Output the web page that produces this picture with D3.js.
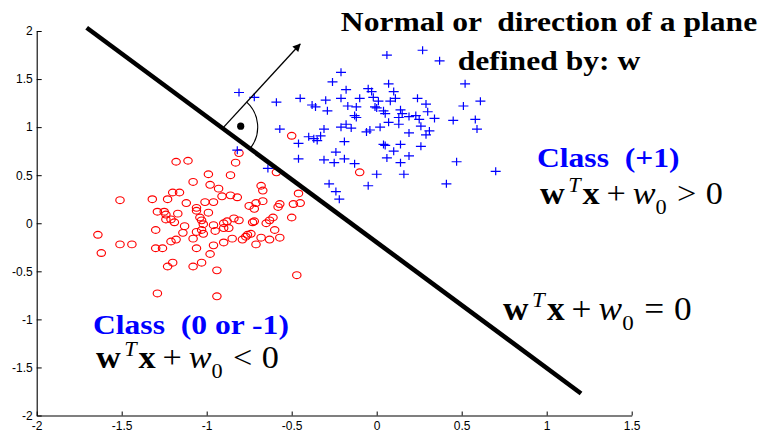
<!DOCTYPE html>
<html><head><meta charset="utf-8">
<script src="https://cdn.jsdelivr.net/npm/d3@7"></script>
<style>body{margin:0;background:#fff}svg{display:block}</style>
</head><body>
<svg id="chart" width="764" height="432"></svg>
<script>
// ---- data ----
const xTicks = [-2, -1.5, -1, -0.5, 0, 0.5, 1, 1.5];
const yTicks = [-2, -1.5, -1, -0.5, 0, 0.5, 1, 1.5, 2];

// Class (0 or -1): red circles  [x, y]
const classNeg = [
 [-1.18,0.64],[-1.11,0.65],[-1.08,0.43],[-1.51,0.24],[-1.32,0.25],[-1.23,0.25],[-1.20,0.32],[-1.16,0.32],[-1.12,0.21],[-1.29,0.12],
 [-1.25,0.12],[-1.24,0.09],[-1.17,0.10],[-1.24,0.04],[-1.21,0.04],[-1.19,0.01],[-1.06,0.16],[-1.06,0.13],[-1.30,-0.07],[-1.13,-0.03],
 [-1.14,-0.10],[-1.08,-0.16],[-1.64,-0.12],[-1.62,-0.31],[-1.51,-0.22],[-1.44,-0.22],[-1.30,-0.26],[-1.26,-0.26],[-1.21,-0.19],[-1.18,-0.17],
 [-1.06,-0.26],[-1.23,-0.45],[-1.20,-0.41],[-1.08,-0.45],[-1.29,-0.73],
 [-0.81,0.73],[-0.83,0.63],[-0.99,0.51],[-0.86,0.50],[-0.59,0.53],[-0.98,0.40],[-0.93,0.36],[-0.68,0.39],[-0.67,0.34],[-0.46,0.31],
 [-0.91,0.28],[-0.86,0.29],[-0.82,0.27],[-1.01,0.22],[-0.96,0.22],[-0.99,0.11],[-0.75,0.18],[-0.72,0.15],[-0.71,0.21],[-0.67,0.23],
 [-0.58,0.17],[-0.57,0.20],[-0.49,0.20],[-0.45,0.21],[-1.04,0.06],[-1.03,0.03],[-1.02,-0.01],[-0.96,-0.02],[-0.90,0.00],[-0.88,0.02],
 [-0.84,0.05],[-0.81,0.03],[-0.73,0.01],[-0.72,0.02],[-0.61,0.06],[-0.63,0.03],[-0.65,0.00],[-0.50,0.06],[-1.03,-0.07],[-1.02,-0.11],
 [-0.95,-0.08],[-0.90,-0.05],[-0.87,-0.05],[-0.77,-0.14],[-0.76,-0.12],[-0.74,-0.11],[-0.85,-0.16],[-0.79,-0.17],[-0.68,-0.15],[-0.60,-0.07],
 [-0.63,-0.17],[-0.57,-0.15],[-0.90,-0.20],[-0.96,-0.23],[-0.71,-0.22],[-0.98,-0.32],[-1.03,-0.41],[-0.94,-0.49],[-0.47,-0.54],[-0.94,-0.76],
 [-0.50,0.91],[-0.10,0.53],[-1.06,-0.09]
];

// Class (+1): blue pluses [x, y]
const classPos = [
 [-0.81,1.36],[-0.72,1.31],[-0.59,1.26],[-0.45,1.30],[-0.38,1.23],[-0.36,1.21],[-0.30,1.28],[-0.29,1.17],[-0.21,1.57],[-0.26,1.47],
 [-0.18,1.39],[-0.21,1.30],[-0.17,1.22],[-0.12,1.21],[-0.10,1.30],[-0.13,1.12],[-0.12,1.10],[-0.57,0.98],[-0.46,0.83],[-0.40,0.90],
 [-0.37,0.88],[-0.35,0.86],[-0.33,0.91],[-0.31,0.98],[-0.21,1.00],[-0.18,1.03],[-0.15,0.99],[-0.19,0.85],[-0.24,0.74],[-0.31,0.66],
 [-0.25,0.63],[-0.19,0.67],[-0.13,0.62],[-0.46,0.67],[-0.64,0.57],[-0.82,0.76],[-0.28,0.41],[-0.24,0.33],[-0.22,0.25],[-0.05,0.39],
 [0.00,0.51],[0.16,0.51],[0.41,0.41],[0.70,0.54],[0.47,0.64],
 [0.06,1.75],[0.27,1.80],[0.37,1.69],[0.07,1.45],[0.52,1.45],[-0.05,1.40],[-0.03,1.37],[0.10,1.37],[-0.02,1.31],[0.01,1.27],
 [0.08,1.27],[0.11,1.30],[0.24,1.30],[0.29,1.24],[-0.01,1.21],[0.00,1.20],[0.04,1.17],[0.14,1.18],[0.15,1.14],[0.05,1.14],
 [0.30,1.16],[0.51,1.22],[0.61,1.27],[0.13,1.10],[0.19,1.11],[0.23,1.12],[0.25,1.08],[0.34,1.09],[0.45,1.07],[0.58,1.08],
 [0.59,0.98],[0.07,1.05],[0.13,1.03],[0.02,1.00],[0.26,1.01],[0.31,0.96],[0.29,0.92],[0.19,0.94],[-0.06,0.95],[-0.04,0.97],
 [0.04,0.82],[0.05,0.81],[0.14,0.82],[0.26,0.80],[0.10,0.75],[0.19,0.70],[0.06,0.68],[0.14,0.63]
];

// decision boundary (end points) and normal vector
const boundary = [[-1.706, 2.034], [1.202, -1.771]];
const normalFoot = [-0.90, 1.00];
const normalTip = [-0.45, 1.865];
const angleDot = [-0.80, 1.01];

// annotation texts
const titleLines = ["Normal or  direction of a plane", "defined by: w"];
const classPosLabel = "Class  (+1)";
const classNegLabel = "Class  (0 or -1)";

// ---- layout ----
const svg = d3.select("#chart");
const x = d3.scaleLinear().domain([-2, 1.5]).range([36.7, 631.7]);
const y = d3.scaleLinear().domain([-2, 2]).range([415.5, 31]);
const SERIF = "'Liberation Serif','Times New Roman',Times,serif";
const SANS = "'Liberation Sans',Arial,Helvetica,sans-serif";
const SX = 1.17;   // horizontal stretch of the bold lettering
const SXEQ = 1.07; // horizontal stretch of the formulas

// axes
const fmt = d => String(d);
const gx = svg.append("g").attr("transform", `translate(0,${y(-2)})`)
  .call(d3.axisBottom(x).tickValues(xTicks).tickFormat(fmt).tickSizeInner(-4).tickSizeOuter(0).tickPadding(6));
const gy = svg.append("g").attr("transform", `translate(${x(-2)},0)`)
  .call(d3.axisLeft(y).tickValues(yTicks).tickFormat(fmt).tickSizeInner(-5).tickSizeOuter(0).tickPadding(4));
[gx, gy].forEach(g => {
  g.selectAll("path.domain").attr("stroke", "#000").attr("stroke-width", 1.1);
  g.selectAll(".tick line").attr("stroke", "#000");
  g.selectAll(".tick text").attr("fill", "#000").attr("font-family", SANS).attr("font-size", 12);
});

// red circles
svg.append("g").selectAll("ellipse").data(classNeg).join("ellipse")
  .attr("cx", d => x(d[0])).attr("cy", d => y(d[1]))
  .attr("rx", 4.2).attr("ry", 3.4)
  .attr("fill", "none").attr("stroke", "#ff0000").attr("stroke-width", 1.15);

// blue pluses
svg.append("g").selectAll("path").data(classPos).join("path")
  .attr("d", d => `M${x(d[0]) - 5},${y(d[1])}h10M${x(d[0])},${y(d[1]) - 4}v8`)
  .attr("fill", "none").attr("stroke", "#0000ff").attr("stroke-width", 1.2);

// boundary line
svg.append("line")
  .attr("x1", x(boundary[0][0])).attr("y1", y(boundary[0][1]))
  .attr("x2", x(boundary[1][0])).attr("y2", y(boundary[1][1]))
  .attr("stroke", "#000").attr("stroke-width", 4.6);

// normal arrow
svg.append("defs").append("marker").attr("id", "ah")
  .attr("viewBox", "0 0 10 10").attr("refX", 9).attr("refY", 5)
  .attr("markerWidth", 11).attr("markerHeight", 8).attr("markerUnits", "userSpaceOnUse")
  .attr("orient", "auto")
  .append("path").attr("d", "M0,0L10,5L0,10z").attr("fill", "#000");
svg.append("line")
  .attr("x1", x(normalFoot[0])).attr("y1", y(normalFoot[1]))
  .attr("x2", x(normalTip[0])).attr("y2", y(normalTip[1]))
  .attr("stroke", "#000").attr("stroke-width", 1.3).attr("marker-end", "url(#ah)");

// right-angle arc
const fx = x(normalFoot[0]), fy = y(normalFoot[1]);
const aArrow = Math.atan2(y(normalTip[1]) - fy, x(normalTip[0]) - fx);
const aLine = Math.atan2(y(boundary[1][1]) - y(boundary[0][1]), x(boundary[1][0]) - x(boundary[0][0]));
svg.append("path")
  .attr("transform", `translate(${fx},${fy})`)
  .attr("d", d3.arc()({innerRadius: 34, outerRadius: 34, startAngle: aArrow + Math.PI / 2, endAngle: aLine + Math.PI / 2}))
  .attr("fill", "none").attr("stroke", "#000").attr("stroke-width", 1.1);
svg.append("circle").attr("cx", x(angleDot[0])).attr("cy", y(angleDot[1])).attr("r", 3.6).attr("fill", "#000");

// ---- annotations ----
function stretchedText(px, py, anchor, sx) {
  return svg.append("g").attr("transform", `translate(${px},${py}) scale(${sx},1)`)
    .append("text").attr("x", 0).attr("y", 0).attr("text-anchor", anchor)
    .attr("font-family", SERIF).style("white-space", "pre");
}
// title
titleLines.forEach((t, i) => {
  stretchedText(549, [31, 70][i], "middle", SX)
    .attr("font-size", 27).attr("font-weight", "bold").attr("fill", "#000").text(t);
});
// class labels
stretchedText(537, 167, "start", SX).attr("font-size", 27).attr("font-weight", "bold").attr("fill", "#0000ff").text(classPosLabel);
stretchedText(93, 334, "start", SX).attr("font-size", 27).attr("font-weight", "bold").attr("fill", "#0000ff").text(classNegLabel);

function equation(px, py, rel, fs) {
  const t = stretchedText(px, py, "start", SXEQ).attr("font-size", fs).attr("fill", "#000");
  t.append("tspan").attr("font-weight", "bold").text("w");
  t.append("tspan").attr("font-style", "italic").attr("font-size", fs * 0.65)
    .attr("dx", fs * 0.10).attr("dy", -fs * 0.39).text("T");
  t.append("tspan").attr("font-weight", "bold").attr("dx", fs * 0.06).attr("dy", fs * 0.39).text("x");
  t.append("tspan").attr("dx", fs * 0.2).text("+");
  t.append("tspan").attr("font-style", "italic").attr("dx", fs * 0.2).text("w");
  t.append("tspan").attr("font-size", fs * 0.65).attr("dx", 0).attr("dy", fs * 0.3).text("0");
  t.append("tspan").attr("dx", fs * 0.3).attr("dy", -fs * 0.3).text(rel);
  t.append("tspan").attr("dx", fs * 0.28).text("0");
}
equation(540, 204, ">", 32);
equation(96, 368, "<", 32);
equation(503, 320, "=", 33);
</script>
</body></html>
